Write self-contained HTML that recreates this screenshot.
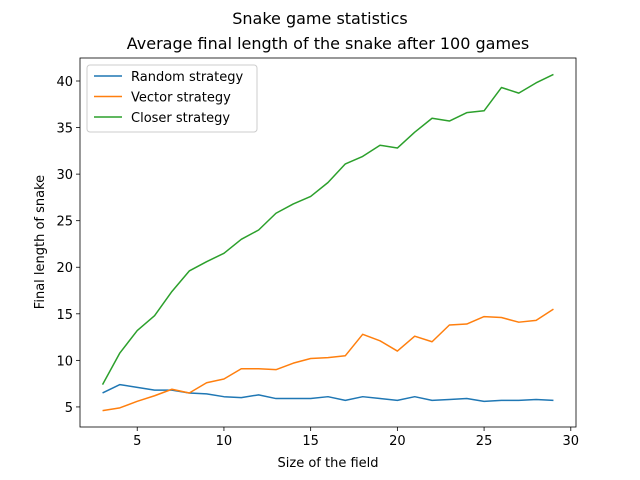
<!DOCTYPE html>
<html><head><meta charset="utf-8"><style>
body{margin:0;background:#fff;}
svg{display:block;font-family:"DejaVu Sans","Liberation Sans",sans-serif;}
</style></head><body>
<svg id="chart" width="640" height="480"></svg>
<script>
const sizes=[3,4,5,6,7,8,9,10,11,12,13,14,15,16,17,18,19,20,21,22,23,24,25,26,27,28,29];
const randomVals=[6.5,7.4,7.1,6.8,6.8,6.5,6.4,6.1,6.0,6.3,5.9,5.9,5.9,6.1,5.7,6.1,5.9,5.7,6.1,5.7,5.8,5.9,5.6,5.7,5.7,5.8,5.7];
const vectorVals=[4.6,4.9,5.6,6.2,6.9,6.5,7.6,8.0,9.1,9.1,9.0,9.7,10.2,10.3,10.5,12.8,12.1,11.0,12.6,12.0,13.8,13.9,14.7,14.6,14.1,14.3,15.5];
const closerVals=[7.4,10.8,13.2,14.8,17.4,19.6,20.6,21.5,23.0,24.0,25.8,26.8,27.6,29.1,31.1,31.9,33.1,32.8,34.5,36.0,35.7,36.6,36.8,39.3,38.7,39.8,40.7];
const xTicks=[5,10,15,20,25,30];
const yTicks=[5,10,15,20,25,30,35,40];
const seriesNames=["Random strategy","Vector strategy","Closer strategy"];

const L=80,R=576,T=58,B=427;
const xMin=1.7,xMax=30.3,yMin=2.845,yMax=42.47;
const sx=v=>L+(v-xMin)/(xMax-xMin)*(R-L);
const sy=v=>B-(v-yMin)/(yMax-yMin)*(B-T);
const NS="http://www.w3.org/2000/svg";
const svg=document.getElementById('chart');
function mk(tag,attrs,parent){const e=document.createElementNS(NS,tag);for(const k in attrs)e.setAttribute(k,attrs[k]);(parent||svg).appendChild(e);return e;}
function txt(s,attrs){const e=mk('text',attrs);e.textContent=s;return e;}

let t=txt("Snake game statistics",{x:320,y:24,'text-anchor':'middle','font-size':16,fill:'#000'});


t=txt("Average final length of the snake after 100 games",{x:328,y:49,'text-anchor':'middle','font-size':16,fill:'#000'});



xTicks.forEach(v=>{
  const x=sx(v);
  const l=mk('line',{x1:x,x2:x,y1:B,y2:B+4,stroke:'#000','stroke-width':0.8});
  
  
  const s=txt(String(v),{x:x,y:B+18,'text-anchor':'middle','font-size':13,fill:'#000'});
  
  
});
yTicks.forEach(v=>{
  const y=sy(v);
  const l=mk('line',{x1:L-4,x2:L,y1:y,y2:y,stroke:'#000','stroke-width':0.8});
  
  
  const s=txt(String(v),{x:L-7,y:y+5,'text-anchor':'end','font-size':13,fill:'#000'});
  
  
});

const colors=['#1f77b4','#ff7f0e','#2ca02c'];
[randomVals,vectorVals,closerVals].forEach((vals,i)=>{
  const d=vals.map((v,j)=>(j?'L':'M')+sx(sizes[j]).toFixed(2)+','+sy(v).toFixed(2)).join('');
  const p=mk('path',{d:d,fill:'none',stroke:colors[i],'stroke-width':1.5,'stroke-linejoin':'round'});
  
  
});

const frame=mk('rect',{x:L,y:T,width:R-L,height:B-T,fill:'none',stroke:'#000','stroke-width':0.8});



t=txt("Size of the field",{x:328,y:467,'text-anchor':'middle','font-size':13,fill:'#000'});


t=txt("Final length of snake",{x:0,y:0,'text-anchor':'middle','font-size':13,fill:'#000',transform:'translate(44,242) rotate(-90)'});



const lg=mk('g',{});


mk('rect',{x:87,y:65,width:170,height:67,rx:3,fill:'#fff','fill-opacity':0.8,stroke:'#ccc','stroke-width':1},lg);
seriesNames.forEach((n,i)=>{
  const y=76+i*20.5;
  const ln=mk('line',{x1:94,x2:122,y1:y,y2:y,stroke:colors[i],'stroke-width':1.5},lg);
  
  
  const s=mk('text',{x:131,y:y+5,'font-size':13,fill:'#000'},lg);
  s.textContent=n;
  
  
});
</script>
</body></html>
